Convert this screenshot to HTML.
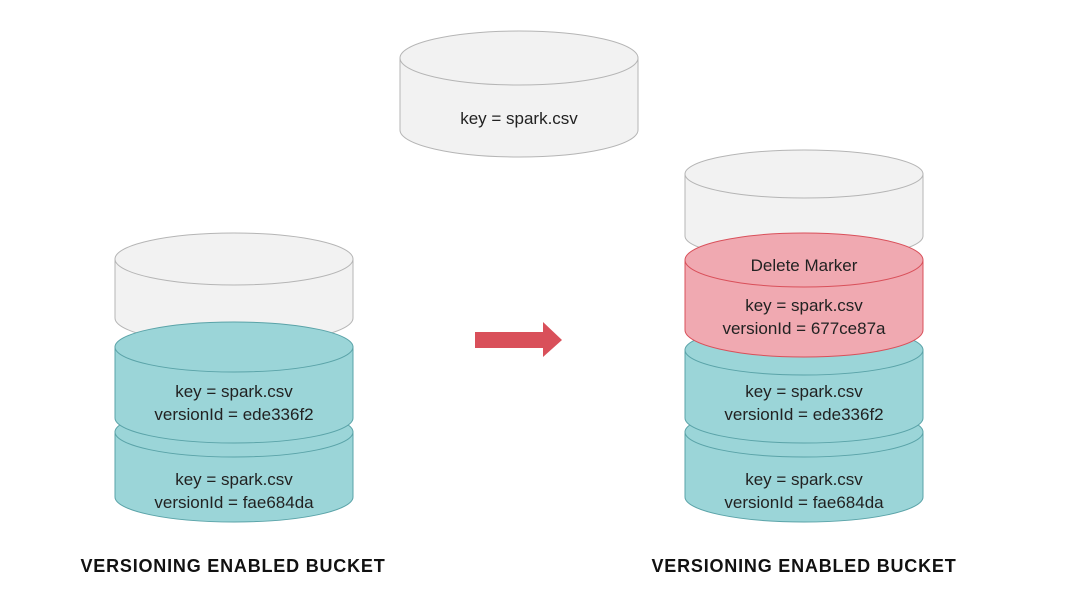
<!DOCTYPE html>
<html><head><meta charset="utf-8"><style>
html,body{margin:0;padding:0;background:#fff;}
svg{display:block;}
text{font-family:"Liberation Sans",sans-serif;fill:#222;}
</style></head><body>
<svg width="1074" height="614" viewBox="0 0 1074 614" xmlns="http://www.w3.org/2000/svg">
<g fill="#f2f2f2" stroke="#b5b5b5" stroke-width="1">
<path d="M400,58 L400,130 A119,27 0 0 0 638,130 L638,58 Z"/>
<ellipse cx="519" cy="58" rx="119" ry="27"/>
</g>
<text x="519" y="124" font-size="17" text-anchor="middle">key = spark.csv</text>

<g fill="#f2f2f2" stroke="#b5b5b5">
<path d="M115,259 L115,318 A119,26 0 0 0 353,318 L353,259 Z"/>
<ellipse cx="234" cy="259" rx="119" ry="26"/>
</g>
<g fill="#9bd5d8" stroke="#5aa3a8">
<path d="M115,432 L115,497 A119,25 0 0 0 353,497 L353,432 Z"/>
<ellipse cx="234" cy="432" rx="119" ry="25"/>
<path d="M115,347 L115,418 A119,25 0 0 0 353,418 L353,347 Z"/>
<ellipse cx="234" cy="347" rx="119" ry="25"/>
</g>
<text x="234" y="397" font-size="17" text-anchor="middle">key = spark.csv</text>
<text x="234" y="420" font-size="17" text-anchor="middle">versionId = ede336f2</text>
<text x="234" y="485" font-size="17" text-anchor="middle">key = spark.csv</text>
<text x="234" y="508" font-size="17" text-anchor="middle">versionId = fae684da</text>

<polygon points="475,332 543,332 543,322 562,340 543,357 543,348 475,348" fill="#d9505a"/>

<g fill="#f2f2f2" stroke="#b5b5b5">
<path d="M685,174 L685,236 A119,24 0 0 0 923,236 L923,174 Z"/>
<ellipse cx="804" cy="174" rx="119" ry="24"/>
</g>
<g fill="#9bd5d8" stroke="#5aa3a8">
<path d="M685,432 L685,497 A119,25 0 0 0 923,497 L923,432 Z"/>
<ellipse cx="804" cy="432" rx="119" ry="25"/>
<path d="M685,350 L685,418 A119,25 0 0 0 923,418 L923,350 Z"/>
<ellipse cx="804" cy="350" rx="119" ry="25"/>
</g>
<g fill="#f0a9b1" stroke="#d9505a">
<path d="M685,260 L685,330 A119,27 0 0 0 923,330 L923,260 Z"/>
<ellipse cx="804" cy="260" rx="119" ry="27"/>
</g>
<text x="804" y="271" font-size="17" text-anchor="middle">Delete Marker</text>
<text x="804" y="311" font-size="17" text-anchor="middle">key = spark.csv</text>
<text x="804" y="334" font-size="17" text-anchor="middle">versionId = 677ce87a</text>
<text x="804" y="397" font-size="17" text-anchor="middle">key = spark.csv</text>
<text x="804" y="420" font-size="17" text-anchor="middle">versionId = ede336f2</text>
<text x="804" y="485" font-size="17" text-anchor="middle">key = spark.csv</text>
<text x="804" y="508" font-size="17" text-anchor="middle">versionId = fae684da</text>

<text x="233" y="572" font-size="18" font-weight="bold" letter-spacing="0.8" text-anchor="middle" style="fill:#111">VERSIONING ENABLED BUCKET</text>
<text x="804" y="572" font-size="18" font-weight="bold" letter-spacing="0.8" text-anchor="middle" style="fill:#111">VERSIONING ENABLED BUCKET</text>
</svg>
</body></html>
